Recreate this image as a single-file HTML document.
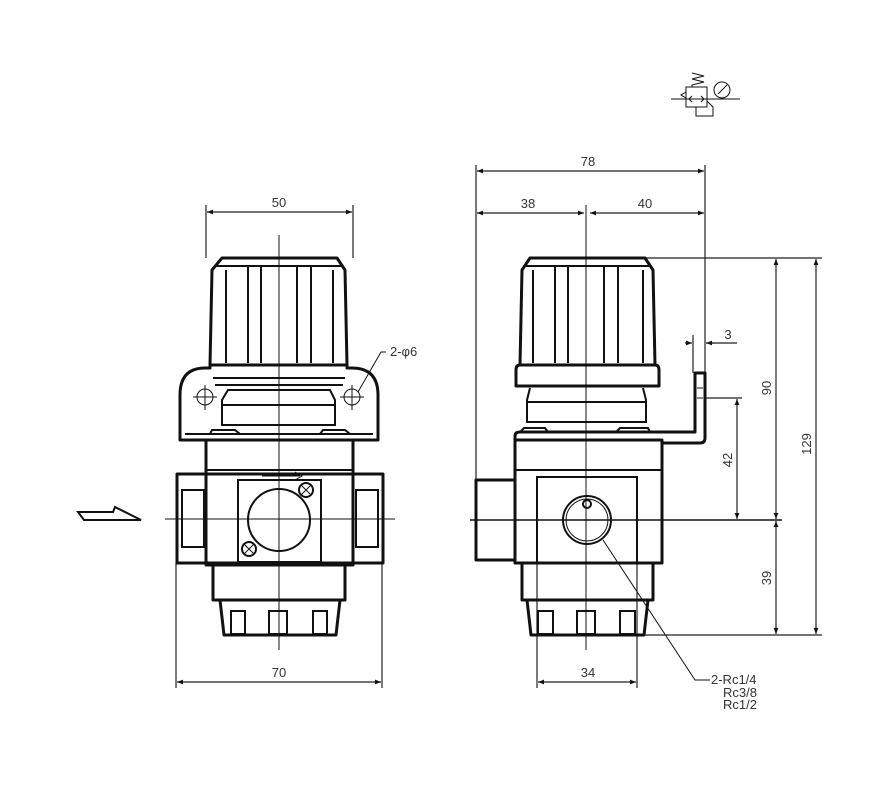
<!DOCTYPE html>
<html><head><meta charset="utf-8"><style>
html,body{margin:0;padding:0;background:#fff}
svg{display:block}
text{font-family:"Liberation Sans",sans-serif;font-size:13px;fill:#333}
.k{fill:none;stroke:#111;stroke-width:3;stroke-linejoin:round}
.m{fill:none;stroke:#111;stroke-width:2}
.t{fill:none;stroke:#111;stroke-width:1}
.d{fill:none;stroke:#222;stroke-width:1.2}
</style></head><body>
<svg width="892" height="806" viewBox="0 0 892 806" xmlns="http://www.w3.org/2000/svg">
<defs>
<marker id="a" viewBox="0 0 10 10" refX="10" refY="5" markerWidth="7" markerHeight="5" orient="auto-start-reverse"><path d="M0,1 L10,5 L0,9z" fill="#111"/></marker>
</defs>

<!-- symbol -->
<g class="t">
<rect x="686" y="87" width="21" height="20"/>
<polyline points="692,87 692,85 704,82 692,79 704,76 692,73"/>
<line x1="671" y1="99" x2="740" y2="99"/>
<polygon points="686,92 681,95 686,98"/>
<line x1="689" y1="99" x2="704" y2="99"/>
<polyline points="692,96 689,99 692,102"/><polyline points="701,96 704,99 701,102"/>
<polyline points="696,107 696,116 713,116 713,107 707,101"/>
<circle cx="722" cy="90" r="8"/><line x1="718" y1="94" x2="727" y2="85"/>
</g>

<!-- flow arrow -->
<polygon class="m" points="78,512 113,512 115,507 141,520 84,520"/>

<!-- LEFT VIEW -->
<g class="d">
<line x1="206" y1="205" x2="206" y2="258"/><line x1="353" y1="205" x2="353" y2="258"/>
<line x1="207" y1="212" x2="352" y2="212" marker-start="url(#a)" marker-end="url(#a)"/>
<line x1="176" y1="563" x2="176" y2="688"/><line x1="382" y1="563" x2="382" y2="688"/>
<line x1="177" y1="682" x2="381" y2="682" marker-start="url(#a)" marker-end="url(#a)"/>
</g>
<text x="279" y="207" text-anchor="middle">50</text>
<text x="279" y="677" text-anchor="middle">70</text>
<g class="t">
<line x1="279" y1="235" x2="279" y2="650"/>
<line x1="165" y1="519" x2="395" y2="519"/>
</g>
<!-- knob -->
<path class="k" d="M222,258 L337,258 L345,270 L347,365 L210,365 L212,270 Z"/>
<g class="m"><line x1="226" y1="270" x2="226" y2="363"/><line x1="333" y1="270" x2="333" y2="363"/>
<line x1="248" y1="266" x2="248" y2="363"/><line x1="261" y1="266" x2="261" y2="363"/>
<line x1="297" y1="266" x2="297" y2="363"/><line x1="311" y1="266" x2="311" y2="363"/>
<line x1="215" y1="266" x2="343" y2="266"/></g>
<!-- bracket -->
<path class="k" d="M210,365 L210,368 L205,368 Q180,368 180,395 L180,440 L378,440 L378,395 Q378,368 352,368 L347,368 L347,365"/>
<g class="m">
<line x1="213" y1="378" x2="345" y2="378"/><line x1="215" y1="385" x2="343" y2="385"/>
<path d="M228,390 L330,390 L335,400 L335,425 L222,425 L222,400 Z"/>
<line x1="222" y1="405" x2="335" y2="405"/>
<line x1="185" y1="434" x2="373" y2="434"/>
<path d="M210,434 L212,430 L235,430 L240,434"/><path d="M320,434 L323,430 L345,430 L350,434"/>
</g>
<circle class="t" cx="205" cy="397" r="8"/><circle class="t" cx="352" cy="397" r="8"/>
<g class="t"><line x1="193" y1="397" x2="217" y2="397"/><line x1="205" y1="385" x2="205" y2="410"/>
<line x1="340" y1="397" x2="364" y2="397"/><line x1="352" y1="385" x2="352" y2="410"/>
<polyline points="386,352 381,352 358,392"/></g>
<text x="390" y="356">2-φ6</text>
<!-- body -->
<g class="k">
<rect x="206" y="440" width="147" height="125"/>
<rect x="177" y="474" width="206" height="89"/>
<line x1="206" y1="474" x2="206" y2="563"/><line x1="353" y1="474" x2="353" y2="563"/>
<path d="M213,565 L213,600 L345,600 L345,565"/>
<path d="M220,600 L224,635 L336,635 L340,600"/>
</g>
<g class="m">
<line x1="206" y1="470" x2="353" y2="470"/>
<rect x="182" y="490" width="22" height="57"/><rect x="356" y="490" width="22" height="57"/>
<rect x="238" y="480" width="83" height="82"/>
<circle cx="279" cy="520" r="31"/>
<circle cx="306" cy="490" r="7"/><circle cx="249" cy="549" r="7"/>
<rect x="231" y="611" width="14" height="23"/><rect x="269" y="611" width="18" height="23"/><rect x="313" y="611" width="14" height="23"/>
</g>
<g class="t"><line x1="301" y1="485" x2="311" y2="495"/><line x1="311" y1="485" x2="301" y2="495"/>
<line x1="244" y1="544" x2="254" y2="554"/><line x1="254" y1="544" x2="244" y2="554"/>
<polyline points="262,476 300,476"/><polyline points="295,472 302,476 295,480"/></g>

<!-- RIGHT VIEW -->
<g class="d">
<line x1="476" y1="165" x2="476" y2="480"/><line x1="705" y1="165" x2="705" y2="373"/>
<line x1="477" y1="171" x2="704" y2="171" marker-start="url(#a)" marker-end="url(#a)"/>
<line x1="477" y1="213" x2="584" y2="213" marker-start="url(#a)" marker-end="url(#a)"/>
<line x1="590" y1="213" x2="704" y2="213" marker-start="url(#a)" marker-end="url(#a)"/>
<line x1="693" y1="335" x2="693" y2="373"/>
<line x1="685" y1="343" x2="692" y2="343" marker-end="url(#a)"/>
<line x1="715" y1="343" x2="706" y2="343" marker-end="url(#a)"/>
<line x1="706" y1="343" x2="737" y2="343"/>
<line x1="645" y1="258" x2="822" y2="258"/>
<line x1="706" y1="398" x2="742" y2="398"/>
<line x1="640" y1="635" x2="822" y2="635"/>
<line x1="737" y1="399" x2="737" y2="519" marker-start="url(#a)" marker-end="url(#a)"/>
<line x1="776" y1="259" x2="776" y2="519" marker-start="url(#a)" marker-end="url(#a)"/>
<line x1="776" y1="521" x2="776" y2="634" marker-start="url(#a)" marker-end="url(#a)"/>
<line x1="816" y1="259" x2="816" y2="634" marker-start="url(#a)" marker-end="url(#a)"/>
<line x1="537" y1="563" x2="537" y2="688"/><line x1="637" y1="563" x2="637" y2="688"/>
<line x1="538" y1="682" x2="636" y2="682" marker-start="url(#a)" marker-end="url(#a)"/>
</g>
<line x1="470" y1="520" x2="782" y2="520" style="stroke:#111;stroke-width:1.5"/>
<line class="t" x1="586" y1="205" x2="586" y2="650"/>
<text x="588" y="166" text-anchor="middle">78</text>
<text x="528" y="208" text-anchor="middle">38</text>
<text x="645" y="208" text-anchor="middle">40</text>
<text x="728" y="339" text-anchor="middle">3</text>
<text x="588" y="677" text-anchor="middle">34</text>
<text transform="translate(732,460) rotate(-90)" text-anchor="middle">42</text>
<text transform="translate(771,388) rotate(-90)" text-anchor="middle">90</text>
<text transform="translate(771,578) rotate(-90)" text-anchor="middle">39</text>
<text transform="translate(811,444) rotate(-90)" text-anchor="middle">129</text>
<!-- knob -->
<path class="k" d="M530,258 L645,258 L653,270 L655,365 L520,365 L522,270 Z"/>
<g class="m"><line x1="533" y1="270" x2="533" y2="363"/><line x1="643" y1="270" x2="643" y2="363"/>
<line x1="555" y1="266" x2="555" y2="363"/><line x1="568" y1="266" x2="568" y2="363"/>
<line x1="604" y1="266" x2="604" y2="363"/><line x1="618" y1="266" x2="618" y2="363"/>
<line x1="524" y1="266" x2="651" y2="266"/></g>
<path class="k" d="M520,365 L655,365 Q659,365 659,370 L659,386 L516,386 L516,370 Q516,365 520,365 Z"/>
<g class="m">
<path d="M530,388 L527,400 L527,422 L646,422 L646,400 L643,388"/>
<line x1="528" y1="402" x2="645" y2="402"/>
</g>
<!-- bracket -->
<path class="k" d="M515,440 L515,436 Q515,432 520,432 L650,432 L695,432 L695,373 L705,373 L705,438 Q705,443 700,443 L662,443"/>
<g class="t"><line x1="697" y1="388" x2="703" y2="388"/><line x1="697" y1="398" x2="703" y2="398"/></g>
<g class="m"><path d="M520,432 L524,428 L545,428 L548,432"/><path d="M616,432 L620,428 L648,428 L650,432"/></g>
<!-- body -->
<g class="k">
<path d="M515,440 L662,440 L662,563 L515,563 Z"/>
<rect x="476" y="480" width="39" height="80"/>
<path d="M522,563 L522,600 L653,600 L653,563"/>
<path d="M527,600 L531,635 L644,635 L648,600"/>
</g>
<g class="m">
<line x1="515" y1="470" x2="662" y2="470"/>
<path d="M537,563 L537,477 L637,477 L637,563"/>
<circle cx="587" cy="520" r="24"/>
<circle cx="587" cy="504" r="4"/>
<rect x="538" y="611" width="15" height="23"/><rect x="577" y="611" width="18" height="23"/><rect x="620" y="611" width="15" height="23"/>
</g>
<circle class="t" cx="587" cy="520" r="21"/>
<polyline class="t" points="603,540 695,680 710,680"/>
<text x="711" y="684">2-Rc1/4</text>
<text x="757" y="697" text-anchor="end">Rc3/8</text>
<text x="757" y="709" text-anchor="end">Rc1/2</text>
</svg>
</body></html>
